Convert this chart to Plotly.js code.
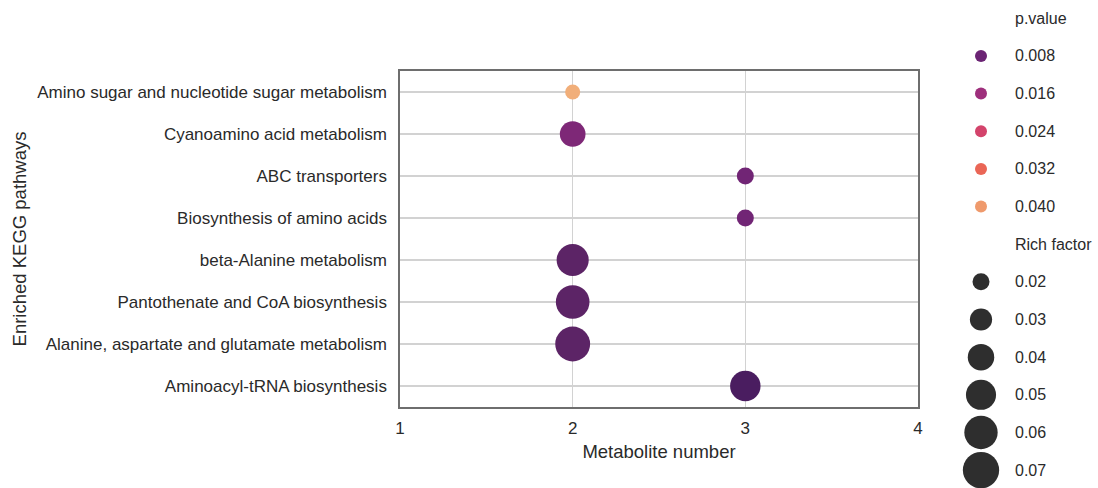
<!DOCTYPE html>
<html>
<head>
<meta charset="utf-8">
<script src="https://cdn.plot.ly/plotly-3.0.1.min.js"></script>
<style>html,body{margin:0;padding:0;background:#fff;}#chart{width:1098px;height:488px;}</style>
</head>
<body>
<div id="chart"></div>
<script>
// ---- data ----
const pathways = [
  "Amino sugar and nucleotide sugar metabolism",
  "Cyanoamino acid metabolism",
  "ABC transporters",
  "Biosynthesis of amino acids",
  "beta-Alanine metabolism",
  "Pantothenate and CoA biosynthesis",
  "Alanine, aspartate and glutamate metabolism",
  "Aminoacyl-tRNA biosynthesis"
];
const metaboliteNumber = [2, 2, 3, 3, 2, 2, 2, 3];
const richFactor = [0.017, 0.038, 0.020, 0.020, 0.056, 0.061, 0.065, 0.051];
const pValue = [0.044, 0.011, 0.009, 0.009, 0.005, 0.005, 0.005, 0.002];

const xTicks = [1, 2, 3, 4];
const pLegendValues = [0.008, 0.016, 0.024, 0.032, 0.040];
const sizeLegendValues = [0.02, 0.03, 0.04, 0.05, 0.06, 0.07];
const pLegendTitle = "p.value";
const sizeLegendTitle = "Rich factor";

// ---- styling / mappings ----
const FONT = "Liberation Sans, Arial, sans-serif";
const TXT = "#2a2a2a";
const colorscale = [
  [0.000, "#3f1a5b"],
  [0.0417, "#4a1d60"],
  [0.104, "#5c2466"],
  [0.1667, "#6b2474"],
  [0.333, "#9e2f7c"],
  [0.500, "#d3436b"],
  [0.667, "#ea6656"],
  [0.833, "#ef9a6c"],
  [1.000, "#f2c185"]
];
const CMIN = 0, CMAX = 0.048;
// area of marker linear in rich factor (seaborn-like size mapping)
function sizeOf(rf) { return Math.sqrt(Math.max(40, 289 + 20600 * (rf - 0.02))); }

const W = 1098, H = 488;
const ML = 400;
const plotRight = 918, plotTop = 71, plotBottom = 407;
const pw = W - ML;

const mainTrace = {
  type: "scatter", mode: "markers",
  x: metaboliteNumber, y: pathways,
  xaxis: "x", yaxis: "y",
  marker: {
    size: richFactor.map(sizeOf), sizemode: "diameter",
    color: pValue, colorscale: colorscale, cmin: CMIN, cmax: CMAX,
    showscale: false, opacity: 1, line: {width: 0}
  },
  hoverinfo: "x+y", showlegend: false
};

// legend rows (row index layout)
const pRows = pLegendValues.map((_, i) => i + 1);
const sRows = sizeLegendValues.map((_, i) => pLegendValues.length + 2 + i);
const sizeTitleRow = pLegendValues.length + 1;

const pLegendTrace = {
  type: "scatter", mode: "markers",
  x: pLegendValues.map(() => 0), y: pRows,
  xaxis: "x2", yaxis: "y2",
  marker: {size: 12, opacity: 1, color: pLegendValues, colorscale: colorscale, cmin: CMIN, cmax: CMAX, showscale: false, line: {width: 0}},
  hoverinfo: "skip", showlegend: false, cliponaxis: false
};
const sLegendTrace = {
  type: "scatter", mode: "markers",
  x: sizeLegendValues.map(() => 0), y: sRows,
  xaxis: "x2", yaxis: "y2",
  marker: {size: sizeLegendValues.map(sizeOf), opacity: 1, color: "#2e2e2e", line: {width: 0}},
  hoverinfo: "skip", showlegend: false, cliponaxis: false
};

const rowPx = 37.65, row0 = 18.3;
const legendX0 = 981;
const d2 = 0.76;
const x2min = ML + d2 * pw - legendX0, x2max = W - legendX0;

const annotations = [];
function addLabel(text, row) {
  annotations.push({xref: "x2", yref: "y2", x: 32, y: row, text: text, showarrow: false,
    xanchor: "left", yanchor: "middle", font: {family: FONT, size: 16, color: TXT}});
}
addLabel(pLegendTitle, 0);
pLegendValues.forEach((v, i) => addLabel(v.toFixed(3), pRows[i]));
addLabel(sizeLegendTitle, sizeTitleRow);
sizeLegendValues.forEach((v, i) => addLabel(v.toFixed(2), sRows[i]));

const layout = {
  width: W, height: H,
  margin: {l: ML, r: 0, t: 0, b: 0, pad: 0},
  paper_bgcolor: "#ffffff", plot_bgcolor: "#ffffff",
  font: {family: FONT, color: TXT, size: 17},
  xaxis: {
    domain: [0, (plotRight - ML) / pw],
    range: [1, 4], tickvals: xTicks, ticktext: xTicks.map(String),
    showgrid: true, gridcolor: "#d2d2d2", gridwidth: 1.5,
    zeroline: false, showline: true, mirror: true, linecolor: "#6e6e6e", linewidth: 1.7,
    ticks: "", tickfont: {size: 17, color: TXT, family: FONT}, ticklabelstandoff: 5,
    title: {text: "Metabolite number", font: {size: 18.5, color: TXT, family: FONT}, standoff: 8},
    anchor: "y", fixedrange: true
  },
  yaxis: {
    domain: [(H - plotBottom) / H, (H - plotTop) / H],
    type: "category", categoryorder: "array", categoryarray: pathways,
    range: [pathways.length - 0.5, -0.5],
    showgrid: true, gridcolor: "#d2d2d2", gridwidth: 1.5,
    zeroline: false, showline: true, mirror: true, linecolor: "#6e6e6e", linewidth: 1.7,
    ticks: "", tickfont: {size: 17, color: TXT, family: FONT}, ticklabelstandoff: 8,
    title: {text: "Enriched KEGG pathways", font: {size: 18.5, color: TXT, family: FONT}, standoff: 6},
    anchor: "x", fixedrange: true
  },
  xaxis2: {domain: [d2, 1], range: [x2min, x2max], visible: false, anchor: "y2", fixedrange: true},
  yaxis2: {domain: [0, 1], range: [(H - row0) / rowPx, -row0 / rowPx], visible: false, anchor: "x2", fixedrange: true},
  annotations: annotations,
  showlegend: false
};

Plotly.newPlot("chart", [mainTrace, pLegendTrace, sLegendTrace], layout, {displayModeBar: false, staticPlot: true});
</script>
</body>
</html>
